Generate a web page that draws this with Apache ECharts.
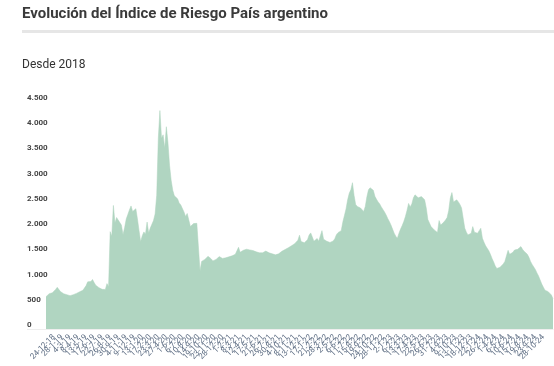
<!DOCTYPE html>
<html>
<head>
<meta charset="utf-8">
<script src="https://cdn.jsdelivr.net/npm/echarts@6/dist/echarts.min.js"></script>
<style>
html,body{margin:0;padding:0;background:#fff;}
#c{width:554px;height:366px;}
</style>
</head>
<body>
<div id="c"></div>
<script>
var titleText = 'Evolución del Índice de Riesgo País argentino';
var subtitleText = 'Desde 2018';
var startDate = [2018, 10, 19]; // first weekly observation (19-11-2018)
var yTicks = [0, 500, 1000, 1500, 2000, 2500, 3000, 3500, 4000, 4500];
var riesgoPais = [
640,675,700,712,718,745,785,826,790,742,
715,700,690,680,668,660,670,680,694,706,
720,738,752,768,786,860,935,905,940,982,
920,866,842,820,800,786,792,784,900,838,
1930,1840,2450,2100,2210,2160,2190,2060,1870,2010,
2180,2270,2360,2440,2330,2340,2385,2180,1950,1730,
1850,1925,1880,2120,1905,2000,2035,2150,2280,2650,
3780,4330,3780,3850,3580,4010,3700,3250,2950,2750,
2640,2620,2580,2500,2460,2430,2320,2230,2290,2160,
2030,2060,2090,2100,2095,2090,1150,1340,1365,1380,
1400,1440,1468,1390,1350,1340,1380,1410,1435,1410,
1400,1395,1410,1435,1430,1435,1450,1468,1480,1500,
1620,1520,1530,1560,1570,1582,1575,1568,1565,1555,
1545,1530,1520,1510,1500,1510,1530,1545,1530,1510,
1500,1490,1480,1470,1480,1490,1500,1540,1560,1575,
1600,1610,1628,1650,1670,1692,1720,1760,1860,1735,
1720,1710,1740,1770,1865,1905,1915,1740,1770,1795,
1740,1850,1950,1780,1760,1740,1730,1715,1720,1745,
1790,1870,1910,1912,1950,2120,2250,2380,2560,2690,
2758,2900,2650,2470,2430,2420,2400,2370,2330,2430,
2620,2760,2800,2820,2750,2630,2570,2520,2480,2420,
2370,2320,2260,2190,2130,2063,1980,1900,1840,1800,
1900,1980,2050,2130,2230,2350,2490,2420,2480,2600,
2660,2680,2600,2610,2625,2590,2560,2400,2170,2100,
2030,2063,1964,1940,1912,2150,2060,2080,2120,2160,
2210,2350,2600,2705,2520,2540,2560,2520,2470,2400,
2200,2000,1920,1865,1880,1898,2030,1920,1900,1898,
1950,1997,1800,1720,1650,1600,1550,1480,1400,1330,
1250,1200,1215,1225,1240,1290,1340,1450,1560,1480,
1470,1520,1565,1575,1580,1600,1634,1580,1540,1510,
1480,1420,1340,1280,1230,1180,1110,1050,970,890,
830,770,755,740,705,674,600
];
var fechas = [];
(function(){
  var d = new Date(Date.UTC(startDate[0], startDate[1], startDate[2]));
  for (var i = 0; i < riesgoPais.length; i++) {
    var yy = String(d.getUTCFullYear()).slice(2);
    fechas.push(d.getUTCDate() + '-' + (d.getUTCMonth() + 1) + '-' + yy);
    d = new Date(d.getTime() + 7 * 86400000);
  }
})();

var chart = echarts.init(document.getElementById('c'), null, {renderer: 'canvas'});
chart.setOption({
  animation: false,
  backgroundColor: '#fff',
  title: [
    {text: titleText, left: 22, top: 7, padding: 0,
     textStyle: {fontFamily: 'Roboto', fontSize: 15, fontWeight: 'bold', color: '#3a3a3a'}},
    {text: subtitleText, left: 22, top: 59, padding: 0,
     textStyle: {fontFamily: 'Roboto', fontSize: 12, fontWeight: 'normal', color: '#333'}}
  ],
  graphic: [
    {type: 'rect', left: 22, top: 30, shape: {width: 532, height: 3}, style: {fill: '#e6e6e6'}},
    {type: 'rect', left: 27, top: 329, shape: {width: 19, height: 1}, style: {fill: '#eeeeee'}}
  ],
  grid: {left: 46, right: 1, top: 102, bottom: 37},
  xAxis: {
    type: 'category',
    data: fechas,
    boundaryGap: false,
    axisLine: {show: true, lineStyle: {color: '#eeeeee'}},
    axisTick: {show: false},
    axisLabel: {
      interval: function(i){ return i % 5 === 0; },
      hideOverlap: false,
      rotate: 45, fontSize: 8, fontFamily: 'Roboto', color: '#5a6a80', margin: 7
    }
  },
  yAxis: {
    type: 'value',
    min: yTicks[0],
    max: yTicks[yTicks.length - 1],
    interval: yTicks[1] - yTicks[0],
    splitLine: {show: false},
    axisLine: {show: false},
    axisTick: {show: false},
    axisLabel: {
      fontSize: 8, fontFamily: 'Roboto', fontWeight: 'bold', color: '#444',
      align: 'left', verticalAlign: 'bottom', margin: 19,
      formatter: function(v){ return String(v).replace(/\B(?=(\d{3})+(?!\d))/g, '.'); }
    }
  },
  series: [{
    type: 'line',
    data: riesgoPais,
    symbol: 'none',
    lineStyle: {width: 0.5, color: '#acd2bd'},
    areaStyle: {color: '#b0d5c1', opacity: 1}
  }]
});
</script>
</body>
</html>
